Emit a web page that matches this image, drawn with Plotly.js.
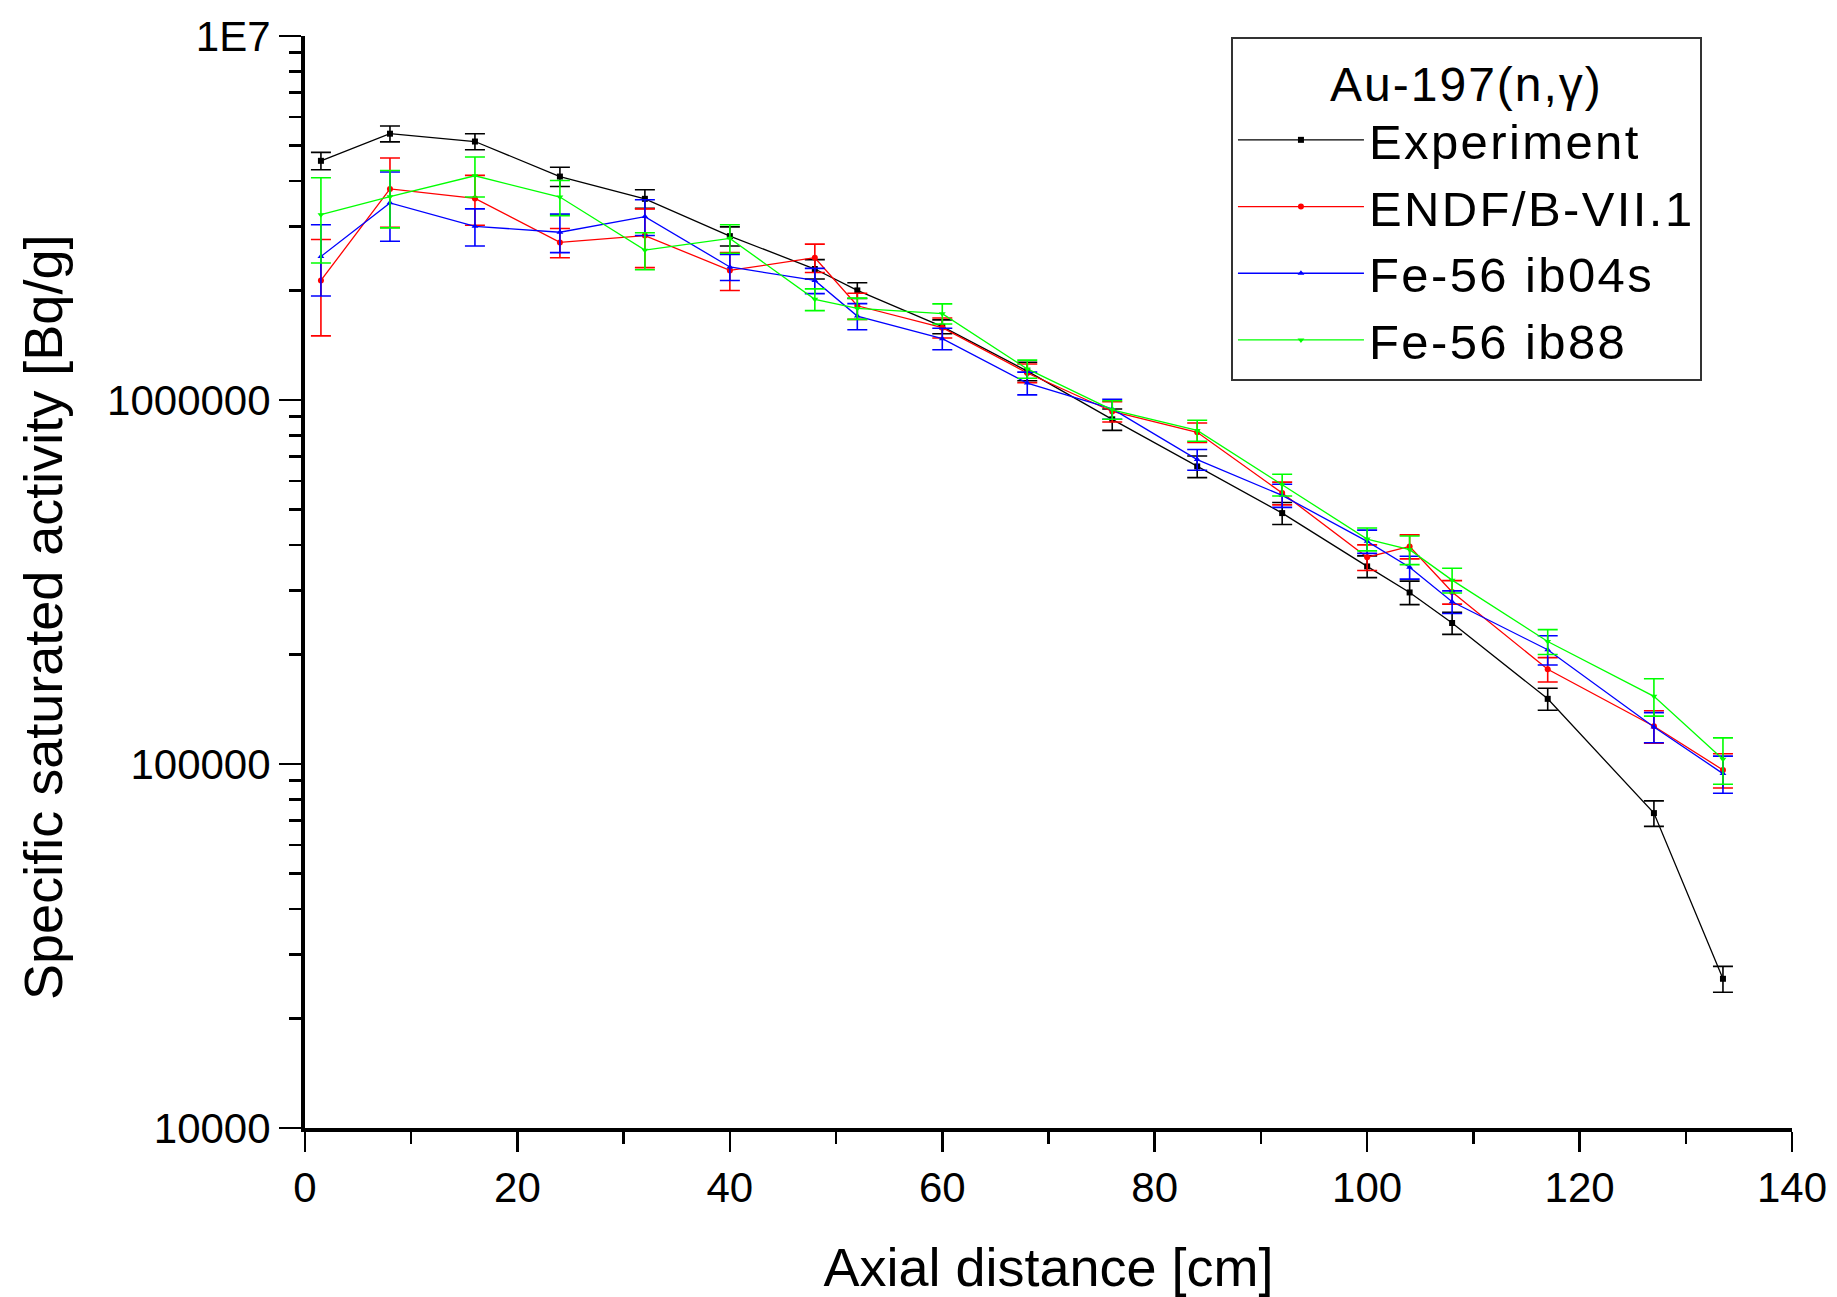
<!DOCTYPE html>
<html>
<head>
<meta charset="utf-8">
<script src="https://cdn.plot.ly/plotly-3.0.1.min.js"></script>
<style>
html,body{margin:0;padding:0;background:#fff;}
#chart{width:1837px;height:1297px;}
text.legendtext{letter-spacing:2.4px;}
text.legendtitletext{letter-spacing:2px;}
</style>
</head>
<body>
<div id="chart"></div>
<script>
// Axial positions [cm]
const xPos = [1.5, 8, 16, 24, 32, 40, 48, 52, 60, 68, 76, 84, 92, 100, 104, 108, 117, 127, 133.5];

// Experiment
const expVals = [4.54e6, 5.39e6, 5.13e6, 4.11e6, 3.57e6, 2.82e6, 2.29e6, 2.00e6, 1.59e6, 1.20e6, 8.85e5, 6.57e5, 4.89e5, 3.49e5, 2.96e5, 2.44e5, 1.51e5, 7.33e4, 2.57e4];
const expErr  = [2.5e5, 2.7e5, 2.6e5, 2.5e5, 2.1e5, 1.7e5, 1.4e5, 1.0e5, 7.0e4, 7.0e4, 6.0e4, 4.5e4, 3.4e4, 2.4e4, 2.2e4, 1.7e4, 1.05e4, 5.9e3, 2.1e3];

// ENDF/B-VII.1
const endfVals = [2.13e6, 3.80e6, 3.58e6, 2.71e6, 2.83e6, 2.27e6, 2.46e6, 1.815e6, 1.58e6, 1.186e6, 9.3e5, 8.15e5, 5.55e5, 3.70e5, 3.96e5, 2.97e5, 1.82e5, 1.27e5, 9.63e4];
const endfErr  = [6.3e5, 8.2e5, 5.6e5, 2.5e5, 5.2e5, 2.7e5, 2.2e5, 1.5e5, 1.0e5, 7.0e4, 6.0e4, 5.0e4, 4.0e4, 3.0e4, 3.0e4, 2.2e4, 1.4e4, 1.3e4, 1.04e4];

// Fe-56 ib04s
const ib04sVals = [2.48e6, 3.48e6, 3.00e6, 2.89e6, 3.19e6, 2.32e6, 2.13e6, 1.70e6, 1.474e6, 1.113e6, 9.45e5, 6.86e5, 5.47e5, 4.09e5, 3.47e5, 2.79e5, 2.06e5, 1.264e5, 9.41e4];
const ib04sErr  = [5.5e5, 7.5e5, 3.5e5, 3.5e5, 3.6e5, 1.9e5, 1.7e5, 1.4e5, 1.0e5, 8.0e4, 6.0e4, 4.5e4, 4.0e4, 3.0e4, 2.5e4, 2.0e4, 1.9e4, 1.2e4, 1.1e4];

// Fe-56 ib88
const ib88Vals = [3.23e6, 3.62e6, 4.13e6, 3.61e6, 2.58e6, 2.78e6, 1.89e6, 1.785e6, 1.727e6, 1.217e6, 9.4e5, 8.25e5, 5.85e5, 4.15e5, 3.88e5, 3.20e5, 2.17e5, 1.534e5, 1.03e5];
const ib88Err  = [8.5e5, 6.5e5, 5.2e5, 4.0e5, 3.0e5, 2.5e5, 1.3e5, 1.2e5, 1.1e5, 7.0e4, 5.5e4, 5.5e4, 4.0e4, 3.0e4, 3.5e4, 2.5e4, 1.7e4, 1.8e4, 1.5e4];

// Axis tick labels
const yTickVals = [1e4, 1e5, 1e6, 1e7];
const yTickText = ['10000', '100000', '1000000', '1E7'];
const xTickVals = [0, 20, 40, 60, 80, 100, 120, 140];

const yMinor = [];
for (let d = 4; d < 7; d++) {
  for (let k = 2; k <= 9; k++) yMinor.push(k * Math.pow(10, d));
}

function series(name, y, err, color, symbol) {
  return {
    type: 'scatter', mode: 'lines+markers', name: name,
    x: xPos, y: y,
    line: {color: color, width: 1.3},
    marker: {color: color, symbol: symbol, size: 6},
    error_y: {type: 'data', array: err, visible: true, color: color, thickness: 1.6, width: 10}
  };
}

const data = [
  series('Experiment', expVals, expErr, '#000000', 'square'),
  series('ENDF/B-VII.1', endfVals, endfErr, '#ff0000', 'circle'),
  series('Fe-56 ib04s', ib04sVals, ib04sErr, '#0000ff', 'triangle-up'),
  series('Fe-56 ib88', ib88Vals, ib88Err, '#00ff00', 'triangle-down')
];

const FONT = '"Liberation Sans", Arial, sans-serif';

const layout = {
  width: 1837, height: 1297,
  paper_bgcolor: '#ffffff', plot_bgcolor: '#ffffff',
  font: {family: FONT, color: '#000', size: 42},
  margin: {l: 305, r: 45, t: 36, b: 169},
  showlegend: true,
  legend: {
    x: 0.6227, y: 0.999, xanchor: 'left', yanchor: 'top',
    bgcolor: '#ffffff', bordercolor: '#333333', borderwidth: 2,
    font: {family: FONT, size: 49, color: '#000'},
    title: {text: 'Au-197(n,γ)', side: 'top center', font: {family: FONT, size: 48, color: '#000'}},
    itemwidth: 126,
    tracegroupgap: 0
  },
  xaxis: {
    type: 'linear', range: [0, 140],
    tickmode: 'array', tickvals: xTickVals,
    ticks: 'outside', ticklen: 20, tickwidth: 2.5, tickcolor: '#000',
    showline: true, linewidth: 4, linecolor: '#000',
    showgrid: false, zeroline: false,
    tickfont: {family: FONT, size: 42, color: '#000'},
    minor: {dtick: 10, ticks: 'outside', ticklen: 12, tickwidth: 2.5, tickcolor: '#000', showgrid: false},
    title: {text: 'Axial distance [cm]', font: {family: FONT, size: 54, color: '#000'}, standoff: 45}
  },
  yaxis: {
    type: 'log', range: [4, 7],
    tickmode: 'array', tickvals: yTickVals, ticktext: yTickText,
    ticks: 'outside', ticklen: 22, tickwidth: 2.5, tickcolor: '#000',
    showline: true, linewidth: 4, linecolor: '#000',
    showgrid: false, zeroline: false,
    tickfont: {family: FONT, size: 42, color: '#000'},
    minor: {tickmode: 'array', tickvals: yMinor, ticks: 'outside', ticklen: 12, tickwidth: 2.5, tickcolor: '#000', showgrid: false}
  },
  annotations: [{
    text: 'Specific saturated activity [Bq/g]',
    xref: 'paper', yref: 'paper', x: -0.1762, y: 0.468,
    xanchor: 'center', yanchor: 'middle', textangle: -90, showarrow: false,
    font: {family: FONT, size: 54, color: '#000'}
  }]
};

Plotly.newPlot('chart', data, layout, {displayModeBar: false, staticPlot: true});
</script>
</body>
</html>
